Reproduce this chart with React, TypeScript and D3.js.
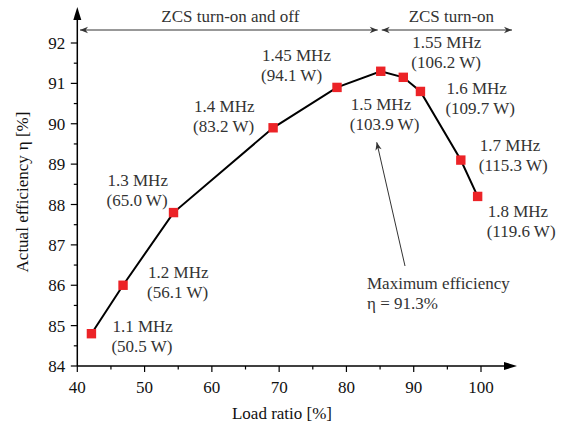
import React from 'react';
import * as d3 from 'd3';

const loadRatio = [42.1, 46.8, 54.3, 69.1, 78.6, 85.1, 88.45, 91.0, 97.0, 99.5];
const efficiency = [84.8, 86.0, 87.8, 89.9, 90.9, 91.3, 91.15, 90.8, 89.1, 88.2];
const freqLabels = ['1.1 MHz', '1.2 MHz', '1.3 MHz', '1.4 MHz', '1.45 MHz', '1.5 MHz', '1.55 MHz', '1.6 MHz', '1.7 MHz', '1.8 MHz'];
const powerLabels = ['(50.5 W)', '(56.1 W)', '(65.0 W)', '(83.2 W)', '(94.1 W)', '(103.9 W)', '(106.2 W)', '(109.7 W)', '(115.3 W)', '(119.6 W)'];
const xTicks = [40, 50, 60, 70, 80, 90, 100];
const yTicks = [84, 85, 86, 87, 88, 89, 90, 91, 92];

// label placement relative to each marker (px)
const labelOffsets: [number, number][] = [
  [21, -2], [25, -7], [-66, -27], [-79, -16], [-75, -26],
  [-30, 39], [9, -29], [26, 3], [19, -9], [10, 21],
];

const W = 565, H = 432;
const FONT = '"Liberation Serif", "Times New Roman", serif';

export default function App() {
  const x = d3.scaleLinear().domain([40, 100]).range([77.3, 481]);
  const y = d3.scaleLinear().domain([84, 92]).range([366, 43]);
  const x0 = x(40), y0 = y(84);

  const line = d3.line<number>()
    .x((_, i) => x(loadRatio[i]))
    .y(d => y(d));

  const xMinor = d3.range(45, 101, 10);
  const yMinor = d3.range(84.5, 92, 1);

  const peak = d3.maxIndex(efficiency);
  const px = x(loadRatio[peak]);
  const tipX = px - 4, tipY = y(efficiency[peak]) + 71;

  return (
    <svg width={W} height={H} style={{ position: 'absolute', left: 0, top: 0, background: '#fff' }}
      fontFamily={FONT} fontSize={17}>
      <defs>
        <marker id="ah" viewBox="0 0 10 10" refX="10" refY="5" markerWidth="10" markerHeight="8"
          markerUnits="userSpaceOnUse" orient="auto-start-reverse">
          <path d="M0,1 L10,5 L0,9 L3,5 Z" fill="#333" />
        </marker>
      </defs>

      {/* ZCS region arrows */}
      <line x1={80} x2={px - 3} y1={30} y2={30} stroke="#333" strokeWidth={1}
        markerStart="url(#ah)" markerEnd="url(#ah)" />
      <line x1={px + 1} x2={512} y1={30} y2={30} stroke="#333" strokeWidth={1}
        markerStart="url(#ah)" markerEnd="url(#ah)" />
      <text x={(80 + px) / 2} y={22} textAnchor="middle" fill="#333">ZCS turn-on and off</text>
      <text x={(px + 512) / 2 + 5} y={22} textAnchor="middle" fill="#333">ZCS turn-on</text>

      {/* axes */}
      <line x1={x0} x2={x0} y1={y0} y2={14} stroke="#000" strokeWidth={1.5} />
      <path d={`M${x0},7 L${x0 - 4},20 L${x0 + 4},20 Z`} fill="#000" />
      <line x1={x0} x2={510} y1={y0} y2={y0} stroke="#000" strokeWidth={1.5} />
      <path d={`M517,${y0} L504,${y0 - 4} L504,${y0 + 4} Z`} fill="#000" />

      {xTicks.map(t => (
        <g key={'x' + t}>
          <line x1={x(t)} x2={x(t)} y1={y0} y2={y0 + 6} stroke="#000" strokeWidth={1.2} />
          <text x={x(t)} y={y0 + 27} textAnchor="middle" fill="#111">{t}</text>
        </g>
      ))}
      {xMinor.map(t => (
        <line key={'xm' + t} x1={x(t)} x2={x(t)} y1={y0} y2={y0 + 3.5} stroke="#000" strokeWidth={1.2} />
      ))}
      {yTicks.map(t => (
        <g key={'y' + t}>
          <line x1={x0 - 6.5} x2={x0} y1={y(t)} y2={y(t)} stroke="#000" strokeWidth={1.2} />
          <text x={x0 - 12} y={y(t) + 6} textAnchor="end" fill="#111">{t}</text>
        </g>
      ))}
      {yMinor.map(t => (
        <line key={'ym' + t} x1={x0 - 3.5} x2={x0} y1={y(t)} y2={y(t)} stroke="#000" strokeWidth={1.2} />
      ))}

      <text x={282} y={419} textAnchor="middle" fill="#111">Load ratio [%]</text>
      <text transform="translate(28,192) rotate(-90)" textAnchor="middle" fill="#111">
        Actual efficiency<tspan dx={5}>η [%]</tspan>
      </text>

      {/* data */}
      <path d={line(efficiency) ?? ''} fill="none" stroke="#000" strokeWidth={2} />
      {efficiency.map((e, i) => (
        <rect key={'m' + i} x={x(loadRatio[i]) - 4.7} y={y(e) - 4.7} width={9.4} height={9.4} fill="#ec2327" />
      ))}

      {efficiency.map((e, i) => {
        const lx = x(loadRatio[i]) + labelOffsets[i][0];
        const ly = y(e) + labelOffsets[i][1];
        return (
          <g key={'l' + i} fill="#333">
            <text x={lx} y={ly}>{freqLabels[i]}</text>
            <text x={lx - 1} y={ly + 20}>{powerLabels[i]}</text>
          </g>
        );
      })}

      {/* maximum efficiency callout */}
      <line x1={405} y1={266} x2={tipX} y2={tipY} stroke="#333" strokeWidth={1}
        markerEnd="url(#ah)" />
      <text x={367} y={289} fill="#333">Maximum efficiency</text>
      <text x={367} y={309} fill="#333">η = {efficiency[peak].toFixed(1)}%</text>
    </svg>
  );
}
